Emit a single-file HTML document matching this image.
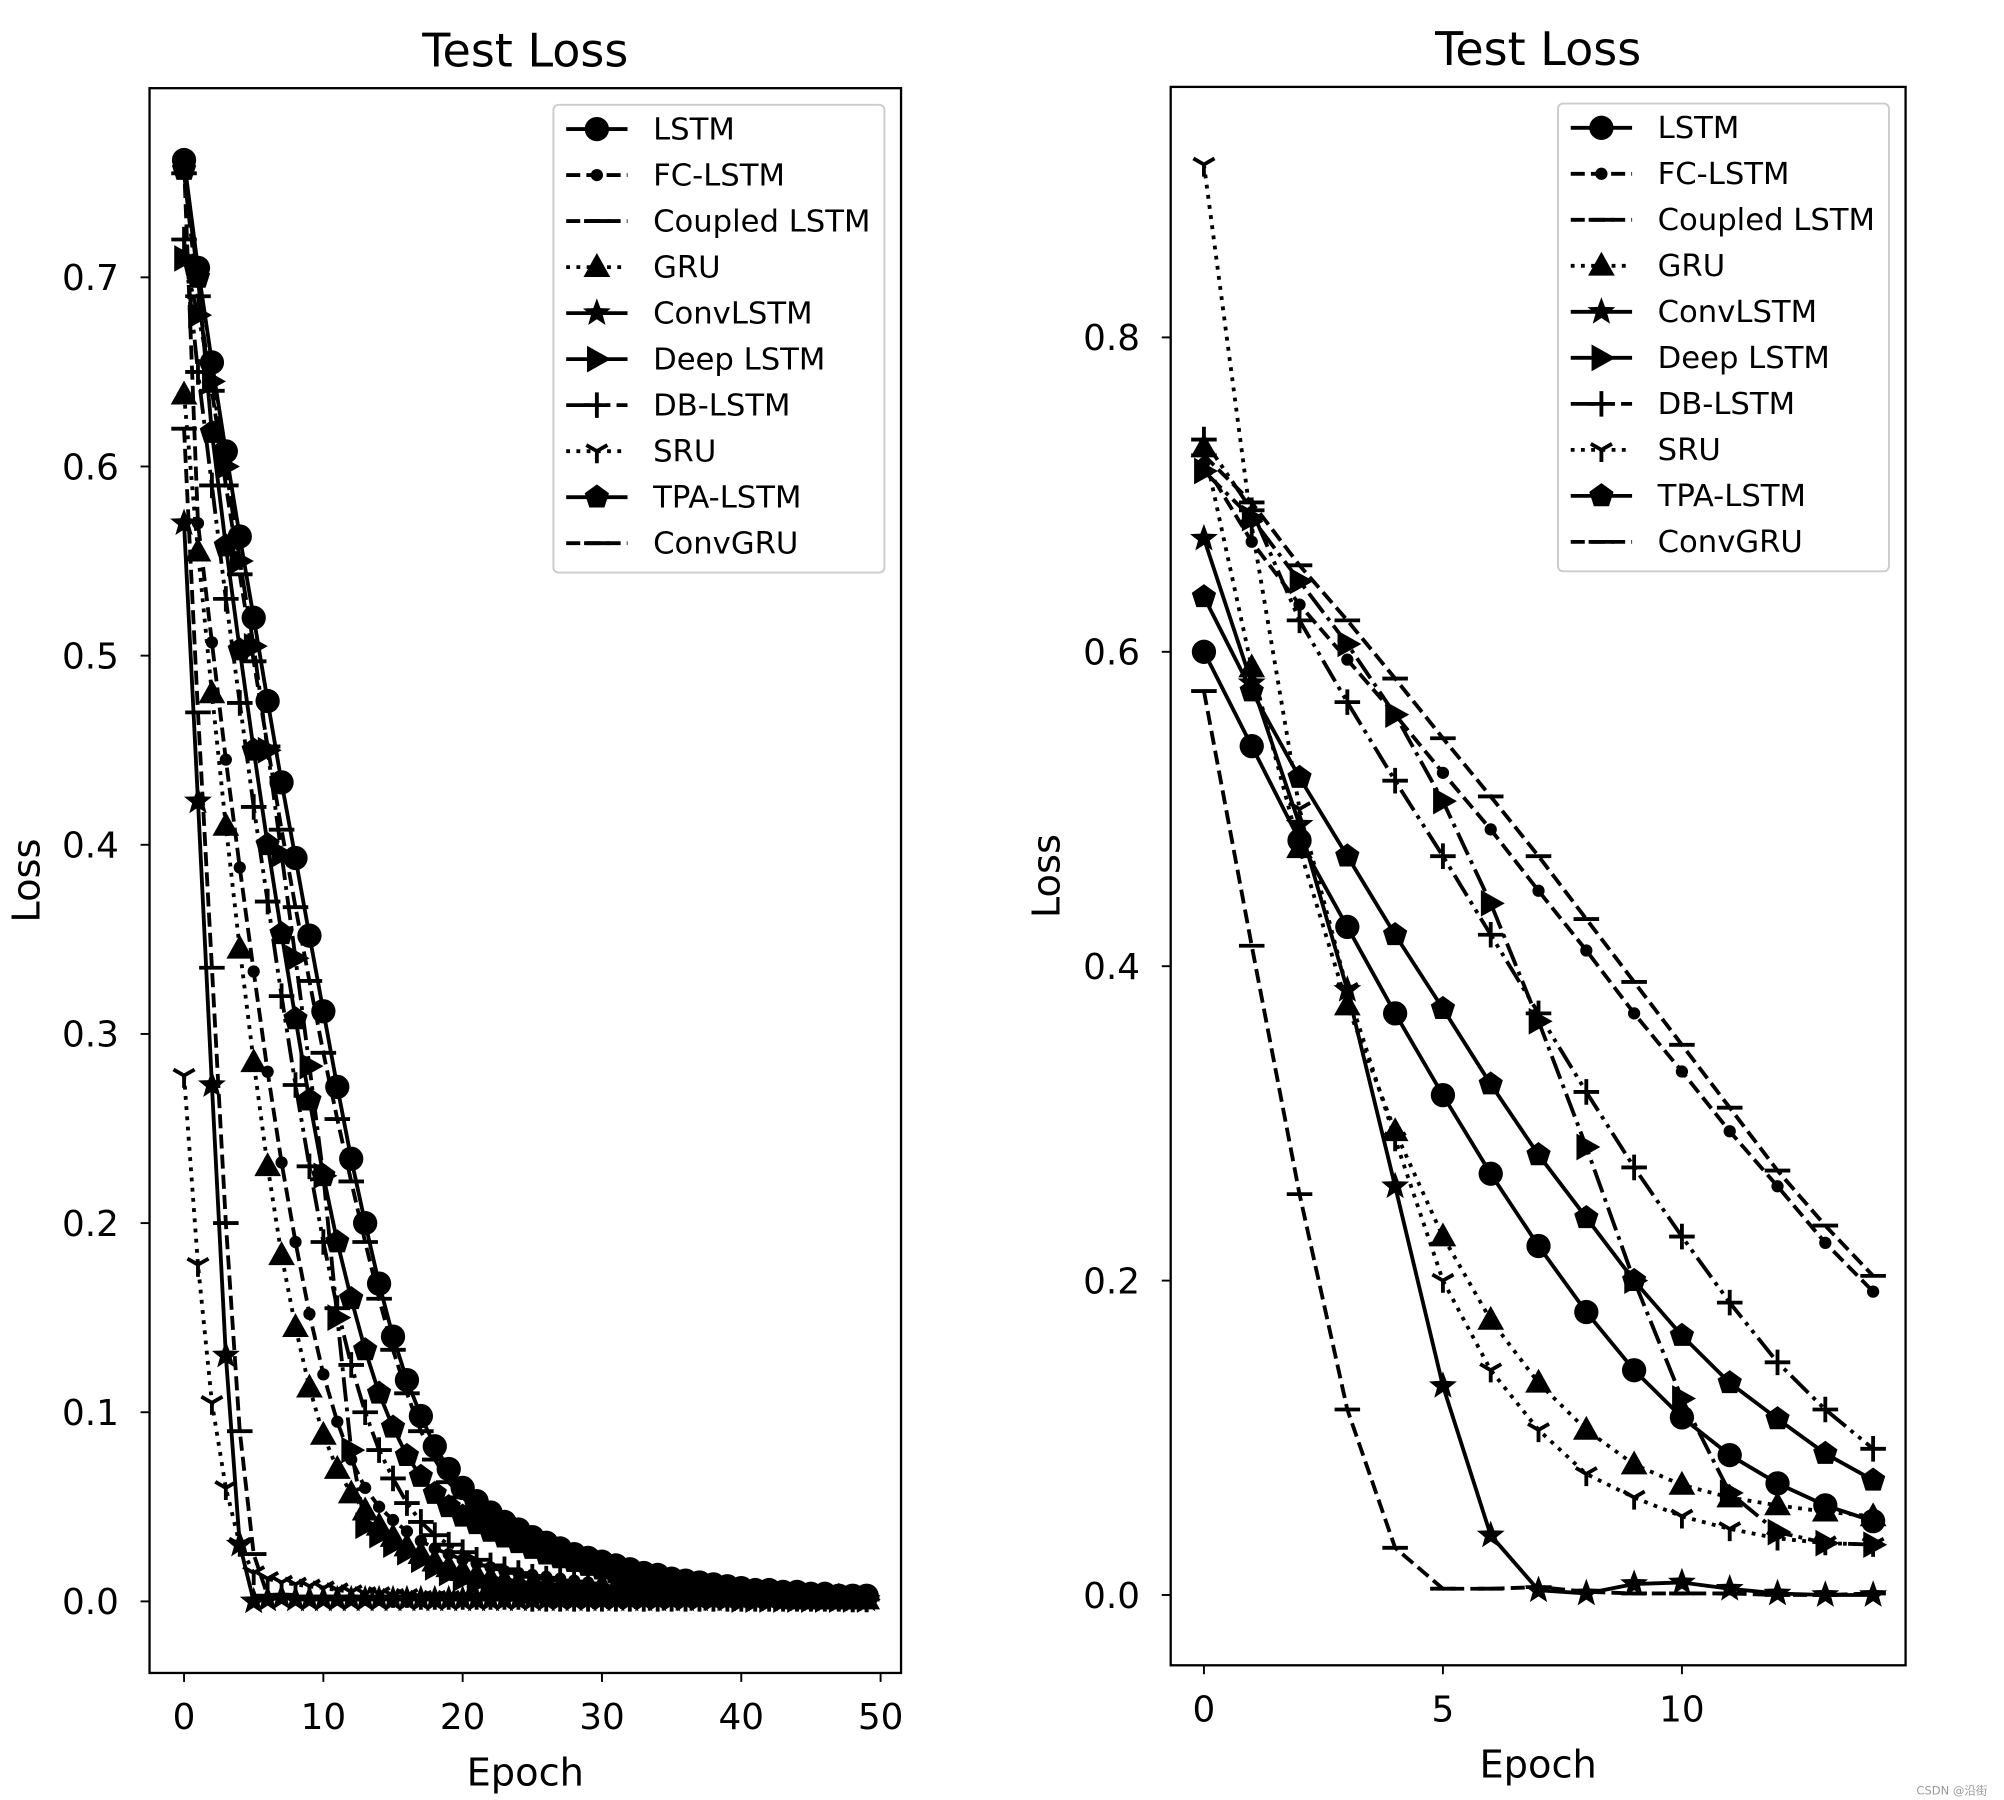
<!DOCTYPE html>
<html><head><meta charset="utf-8"><style>
html,body{margin:0;padding:0;background:#fff}
svg{display:block}
text{font-family:"DejaVu Sans","Liberation Sans",sans-serif;fill:#000}
</style></head><body>
<svg id="fig" width="2004" height="1800" viewBox="0 0 1568 1408.4" xmlns="http://www.w3.org/2000/svg">
<defs>
<clipPath id="clipL"><rect x="117" y="69" width="588" height="1240"/></clipPath>
<clipPath id="clipR"><rect x="916" y="68" width="575" height="1235"/></clipPath>
</defs>
<rect width="1570" height="1410" fill="#fff"/>
<g id="left"></g>
<g id="right"></g>
<text x="1555" y="1404" font-size="9" text-anchor="end" fill="#999" style="fill:#999">CSDN @沿街</text>
</svg>
<script>
const seriesNames = ["LSTM","FC-LSTM","Coupled LSTM","GRU","ConvLSTM","Deep LSTM","DB-LSTM","SRU","TPA-LSTM","ConvGRU"];
const leftLSTM = [0.762,0.705,0.655,0.608,0.563,0.52,0.476,0.433,0.393,0.352,0.312,0.272,0.234,0.2,0.168,0.14,0.117,0.098,0.082,0.07,0.06,0.053,0.047,0.042,0.038,0.034,0.031,0.028,0.025,0.023,0.021,0.019,0.017,0.015,0.014,0.012,0.011,0.010,0.009,0.008,0.007,0.006,0.006,0.005,0.005,0.004,0.004,0.003,0.003,0.003];
const leftFC = [0.76,0.57,0.507,0.445,0.388,0.333,0.28,0.232,0.19,0.152,0.12,0.095,0.075,0.06,0.05,0.043,0.037,0.032,0.028,0.025,0.022,0.02,0.018,0.016,0.015,0.014,0.013,0.012,0.011,0.010,0.009,0.008,0.008,0.007,0.007,0.006,0.006,0.005,0.005,0.004,0.004,0.004,0.003,0.003,0.003,0.002,0.002,0.002,0.002,0.002];
const leftCoupled = [0.755,0.69,0.64,0.59,0.543,0.497,0.452,0.408,0.367,0.328,0.29,0.255,0.222,0.19,0.16,0.133,0.11,0.09,0.075,0.063,0.055,0.048,0.043,0.038,0.034,0.030,0.027,0.024,0.022,0.020,0.018,0.016,0.014,0.013,0.012,0.011,0.010,0.009,0.008,0.007,0.006,0.006,0.005,0.005,0.004,0.004,0.003,0.003,0.003,0.002];
const leftGRU = [0.638,0.555,0.48,0.41,0.345,0.285,0.23,0.183,0.145,0.113,0.088,0.07,0.057,0.048,0.04,0.034,0.029,0.025,0.021,0.018,0.016,0.014,0.012,0.011,0.010,0.009,0.008,0.007,0.006,0.006,0.005,0.005,0.004,0.004,0.004,0.003,0.003,0.003,0.003,0.002,0.002,0.002,0.002,0.002,0.001,0.001,0.001,0.001,0.001,0.001];
const leftConvLSTM = [0.57,0.423,0.273,0.13,0.03,0.0,0.001,0.002,0.001,0.001,0.001,0.001,0.001,0.001,0.001,0.001,0.001,0.001,0.001,0.001,0.001,0.001,0.001,0.001,0.001,0.001,0.001,0.001,0.001,0.001,0.001,0.001,0.001,0.001,0.001,0.001,0.001,0.001,0.001,0.001,0.001,0.001,0.001,0.001,0.001,0.001,0.001,0.001,0.001,0.001];
const leftDeep = [0.71,0.68,0.645,0.6,0.55,0.505,0.45,0.395,0.34,0.283,0.225,0.15,0.08,0.04,0.035,0.03,0.026,0.022,0.018,0.015,0.012,0.01,0.008,0.007,0.006,0.005,0.005,0.004,0.004,0.004,0.003,0.003,0.003,0.003,0.002,0.002,0.002,0.002,0.002,0.002,0.001,0.001,0.001,0.001,0.001,0.001,0.001,0.001,0.001,0.001];
const leftDB = [0.72,0.65,0.59,0.53,0.475,0.42,0.37,0.32,0.273,0.23,0.19,0.155,0.125,0.1,0.08,0.065,0.052,0.042,0.035,0.03,0.026,0.022,0.019,0.017,0.015,0.013,0.012,0.011,0.010,0.009,0.008,0.007,0.006,0.006,0.005,0.005,0.004,0.004,0.004,0.003,0.003,0.003,0.003,0.002,0.002,0.002,0.002,0.002,0.001,0.001];
const leftSRU = [0.278,0.178,0.105,0.06,0.03,0.015,0.012,0.01,0.009,0.008,0.007,0.006,0.005,0.004,0.004,0.003,0.003,0.002,0.002,0.002,0.002,0.002,0.002,0.002,0.002,0.001,0.001,0.001,0.001,0.001,0.001,0.001,0.001,0.001,0.001,0.001,0.001,0.001,0.001,0.001,0.001,0.001,0.001,0.001,0.001,0.001,0.001,0.001,0.001,0.001];
const leftTPA = [0.757,0.70,0.618,0.558,0.503,0.45,0.40,0.353,0.308,0.265,0.225,0.19,0.16,0.133,0.11,0.092,0.077,0.066,0.057,0.05,0.045,0.041,0.037,0.034,0.031,0.028,0.025,0.023,0.021,0.019,0.017,0.015,0.013,0.012,0.011,0.010,0.009,0.008,0.007,0.006,0.006,0.005,0.005,0.004,0.004,0.003,0.003,0.003,0.002,0.002];
const leftConvGRU = [0.62,0.47,0.335,0.2,0.09,0.025,0.003,0.002,0.002,0.002,0.002,0.001,0.001,0.001,0.001,0.001,0.001,0.001,0.001,0.001,0.001,0.001,0.001,0.001,0.001,0.001,0.001,0.001,0.001,0.001,0.001,0.001,0.001,0.001,0.001,0.001,0.001,0.001,0.001,0.001,0.001,0.001,0.001,0.001,0.001,0.001,0.001,0.001,0.001,0.001];

const rightLSTM = [0.60,0.54,0.48,0.425,0.37,0.318,0.268,0.222,0.18,0.143,0.113,0.089,0.071,0.057,0.047];
const rightFC = [0.72,0.67,0.63,0.595,0.56,0.523,0.487,0.448,0.41,0.37,0.333,0.295,0.26,0.224,0.193];
const rightCoupled = [0.725,0.695,0.655,0.62,0.583,0.545,0.508,0.47,0.43,0.39,0.35,0.31,0.27,0.235,0.203];
const rightGRU = [0.73,0.59,0.475,0.375,0.295,0.228,0.175,0.135,0.105,0.083,0.07,0.062,0.057,0.053,0.05];
const rightConvLSTM = [0.672,0.58,0.49,0.385,0.26,0.133,0.038,0.003,0.001,0.007,0.008,0.004,0.001,0.0,0.0];
const rightDeep = [0.715,0.685,0.645,0.605,0.56,0.505,0.44,0.365,0.285,0.2,0.125,0.065,0.04,0.033,0.032];
const rightDB = [0.735,0.69,0.62,0.568,0.518,0.47,0.42,0.37,0.32,0.272,0.228,0.186,0.148,0.118,0.093];
const rightSRU = [0.91,0.68,0.5,0.385,0.29,0.2,0.143,0.105,0.077,0.062,0.05,0.042,0.036,0.033,0.032];
const rightTPA = [0.635,0.575,0.52,0.47,0.42,0.373,0.325,0.28,0.24,0.2,0.165,0.135,0.112,0.09,0.073];
const rightConvGRU = [0.575,0.413,0.255,0.118,0.03,0.004,0.004,0.005,0.002,0.001,0.001,0.001,0.0,0.0,0.001];

const leftXTicks = [0,10,20,30,40,50];
const leftYTicks = [0.0,0.1,0.2,0.3,0.4,0.5,0.6,0.7];
const rightXTicks = [0,5,10];
const rightYTicks = [0.0,0.2,0.4,0.6,0.8];

const LW = 3;
const styles = [
 {m:"o",d:""},{m:".",d:"11,4.8"},{m:"_",d:"11,4.8"},{m:"^",d:"3,5"},{m:"*",d:""},
 {m:">",d:"19,4.8,3,4.8"},{m:"+",d:"19,4.8,3,4.8,3,4.8"},{m:"1",d:"3,5"},{m:"p",d:""},{m:"_",d:"11,4.8"}
];
const NS="http://www.w3.org/2000/svg";
function el(tag,attrs,parent){const e=document.createElementNS(NS,tag);for(const k in attrs)e.setAttribute(k,attrs[k]);if(parent)parent.appendChild(e);return e;}

function marker(g,type,x,y,s){
  let e;
  if(type==="o"){e=el("circle",{cx:x,cy:y,r:9.5*s,fill:"#000"},g);}
  else if(type==="."){e=el("circle",{cx:x,cy:y,r:4.8*s,fill:"#000"},g);}
  else if(type==="_"){e=el("line",{x1:x-10*s,y1:y,x2:x+10*s,y2:y,stroke:"#000","stroke-width":LW},g);}
  else if(type==="+"){e=el("path",{d:`M${x-10*s},${y}H${x+10*s}M${x},${y-10*s}V${y+10*s}`,stroke:"#000","stroke-width":LW,fill:"none"},g);}
  else if(type==="1"){const r=9.5*s;e=el("path",{d:`M${x},${y}V${y+r}M${x},${y}L${x-r*0.87},${y-r*0.5}M${x},${y}L${x+r*0.87},${y-r*0.5}`,stroke:"#000","stroke-width":LW,fill:"none"},g);}
  else if(type==="^"){const r=11*s;e=el("polygon",{points:`${x},${y-r} ${x-r*0.95},${y+r*0.7} ${x+r*0.95},${y+r*0.7}`,fill:"#000"},g);}
  else if(type===">"){const r=11*s;e=el("polygon",{points:`${x+r},${y} ${x-r*0.7},${y-r*0.95} ${x-r*0.7},${y+r*0.95}`,fill:"#000"},g);}
  else if(type==="p"||type==="*"){
    const pts=[];const R=(type==="p"?10:11.5)*s;const n=type==="p"?5:10;
    for(let i=0;i<n;i++){const a=-Math.PI/2+i*2*Math.PI/n;const rr=(type==="*"&&i%2)?R*0.42:R;pts.push((x+rr*Math.cos(a)).toFixed(1)+","+(y+rr*Math.sin(a)).toFixed(1));}
    e=el("polygon",{points:pts.join(" "),fill:"#000"},g);
  }
  return e;
}

function drawAxes(cfg){
  const root=document.getElementById(cfg.id);
  const X=v=>cfg.x0+v*cfg.xs, Y=v=>cfg.y0-v*cfg.ys;
  const plot=el("g",{"clip-path":`url(#${cfg.clip})`},root);
  
  
  cfg.data.forEach((arr,si)=>{
    const st=styles[si];
    const g=el("g",{},plot);
    
    
    const d=arr.map((v,i)=>(i?"L":"M")+X(i).toFixed(1)+","+Y(v).toFixed(1)).join("");
    const ln=el("path",{d:d,fill:"none",stroke:"#000","stroke-width":LW,"stroke-dasharray":st.d||"none","stroke-linejoin":"round"},g);
    
    
    arr.forEach((v,i)=>{
      const mk=marker(g,st.m,X(i),Y(v),1);
      
      
    });
  });
  const frame=el("rect",{x:cfg.bx,y:cfg.by,width:cfg.bw,height:cfg.bh,fill:"none",stroke:"#000","stroke-width":1.8},root);
  
  
  cfg.xt.forEach(t=>{
    el("line",{x1:X(t),x2:X(t),y1:cfg.by+cfg.bh,y2:cfg.by+cfg.bh+7,stroke:"#000","stroke-width":1.5},root);
    const tx=el("text",{x:X(t),y:cfg.by+cfg.bh+44,"font-size":28,"text-anchor":"middle"},root);
    tx.textContent=String(t);
    
    
  });
  cfg.yt.forEach(t=>{
    el("line",{x1:cfg.bx-7,x2:cfg.bx,y1:Y(t),y2:Y(t),stroke:"#000","stroke-width":1.5},root);
    const tx=el("text",{x:cfg.bx-24,y:Y(t)+10,"font-size":28,"text-anchor":"end"},root);
    tx.textContent=t.toFixed(1);
    
    
  });
  const ti=el("text",{x:cfg.bx+cfg.bw/2,y:cfg.by-17,"font-size":36,"text-anchor":"middle"},root);
  ti.textContent="Test Loss";
  
  
  const xl=el("text",{x:cfg.bx+cfg.bw/2,y:cfg.by+cfg.bh+88,"font-size":30,"text-anchor":"middle"},root);
  xl.textContent="Epoch";
  
  
  const yl=el("text",{x:cfg.ylx,y:cfg.by+cfg.bh/2,"font-size":30,"text-anchor":"middle",transform:`rotate(-90 ${cfg.ylx} ${cfg.by+cfg.bh/2})`},root);
  yl.textContent="Loss";
  
  
  const lg=el("g",{},root);
  
  
  el("rect",{x:cfg.lx,y:cfg.ly,width:259,height:366,rx:4,fill:"#fff",stroke:"#ccc","stroke-width":1.5},lg);
  seriesNames.forEach((n,i)=>{
    const yy=cfg.ly+19+i*36;
    const st=styles[i];
    const e=el("g",{},lg);
    
    
    el("line",{x1:cfg.lx+10,x2:cfg.lx+58,y1:yy,y2:yy,stroke:"#000","stroke-width":LW,"stroke-dasharray":st.d||"none"},e);
    marker(e,st.m,cfg.lx+34,yy,1);
    const t=el("text",{x:cfg.lx+78,y:yy+8,"font-size":24},e);
    t.textContent=n;
  });
}
drawAxes({id:"left",clip:"clipL",x0:144,xs:10.9,y0:1253,ys:1480,bx:117,by:69,bw:588,bh:1240,ylx:31,lx:433,ly:82,xt:leftXTicks,yt:leftYTicks,
 data:[leftLSTM,leftFC,leftCoupled,leftGRU,leftConvLSTM,leftDeep,leftDB,leftSRU,leftTPA,leftConvGRU]});
drawAxes({id:"right",clip:"clipR",x0:942,xs:37.4,y0:1248,ys:1230,bx:916,by:68,bw:575,bh:1235,ylx:829,lx:1219,ly:81,xt:rightXTicks,yt:rightYTicks,
 data:[rightLSTM,rightFC,rightCoupled,rightGRU,rightConvLSTM,rightDeep,rightDB,rightSRU,rightTPA,rightConvGRU]});
</script>
</body></html>
